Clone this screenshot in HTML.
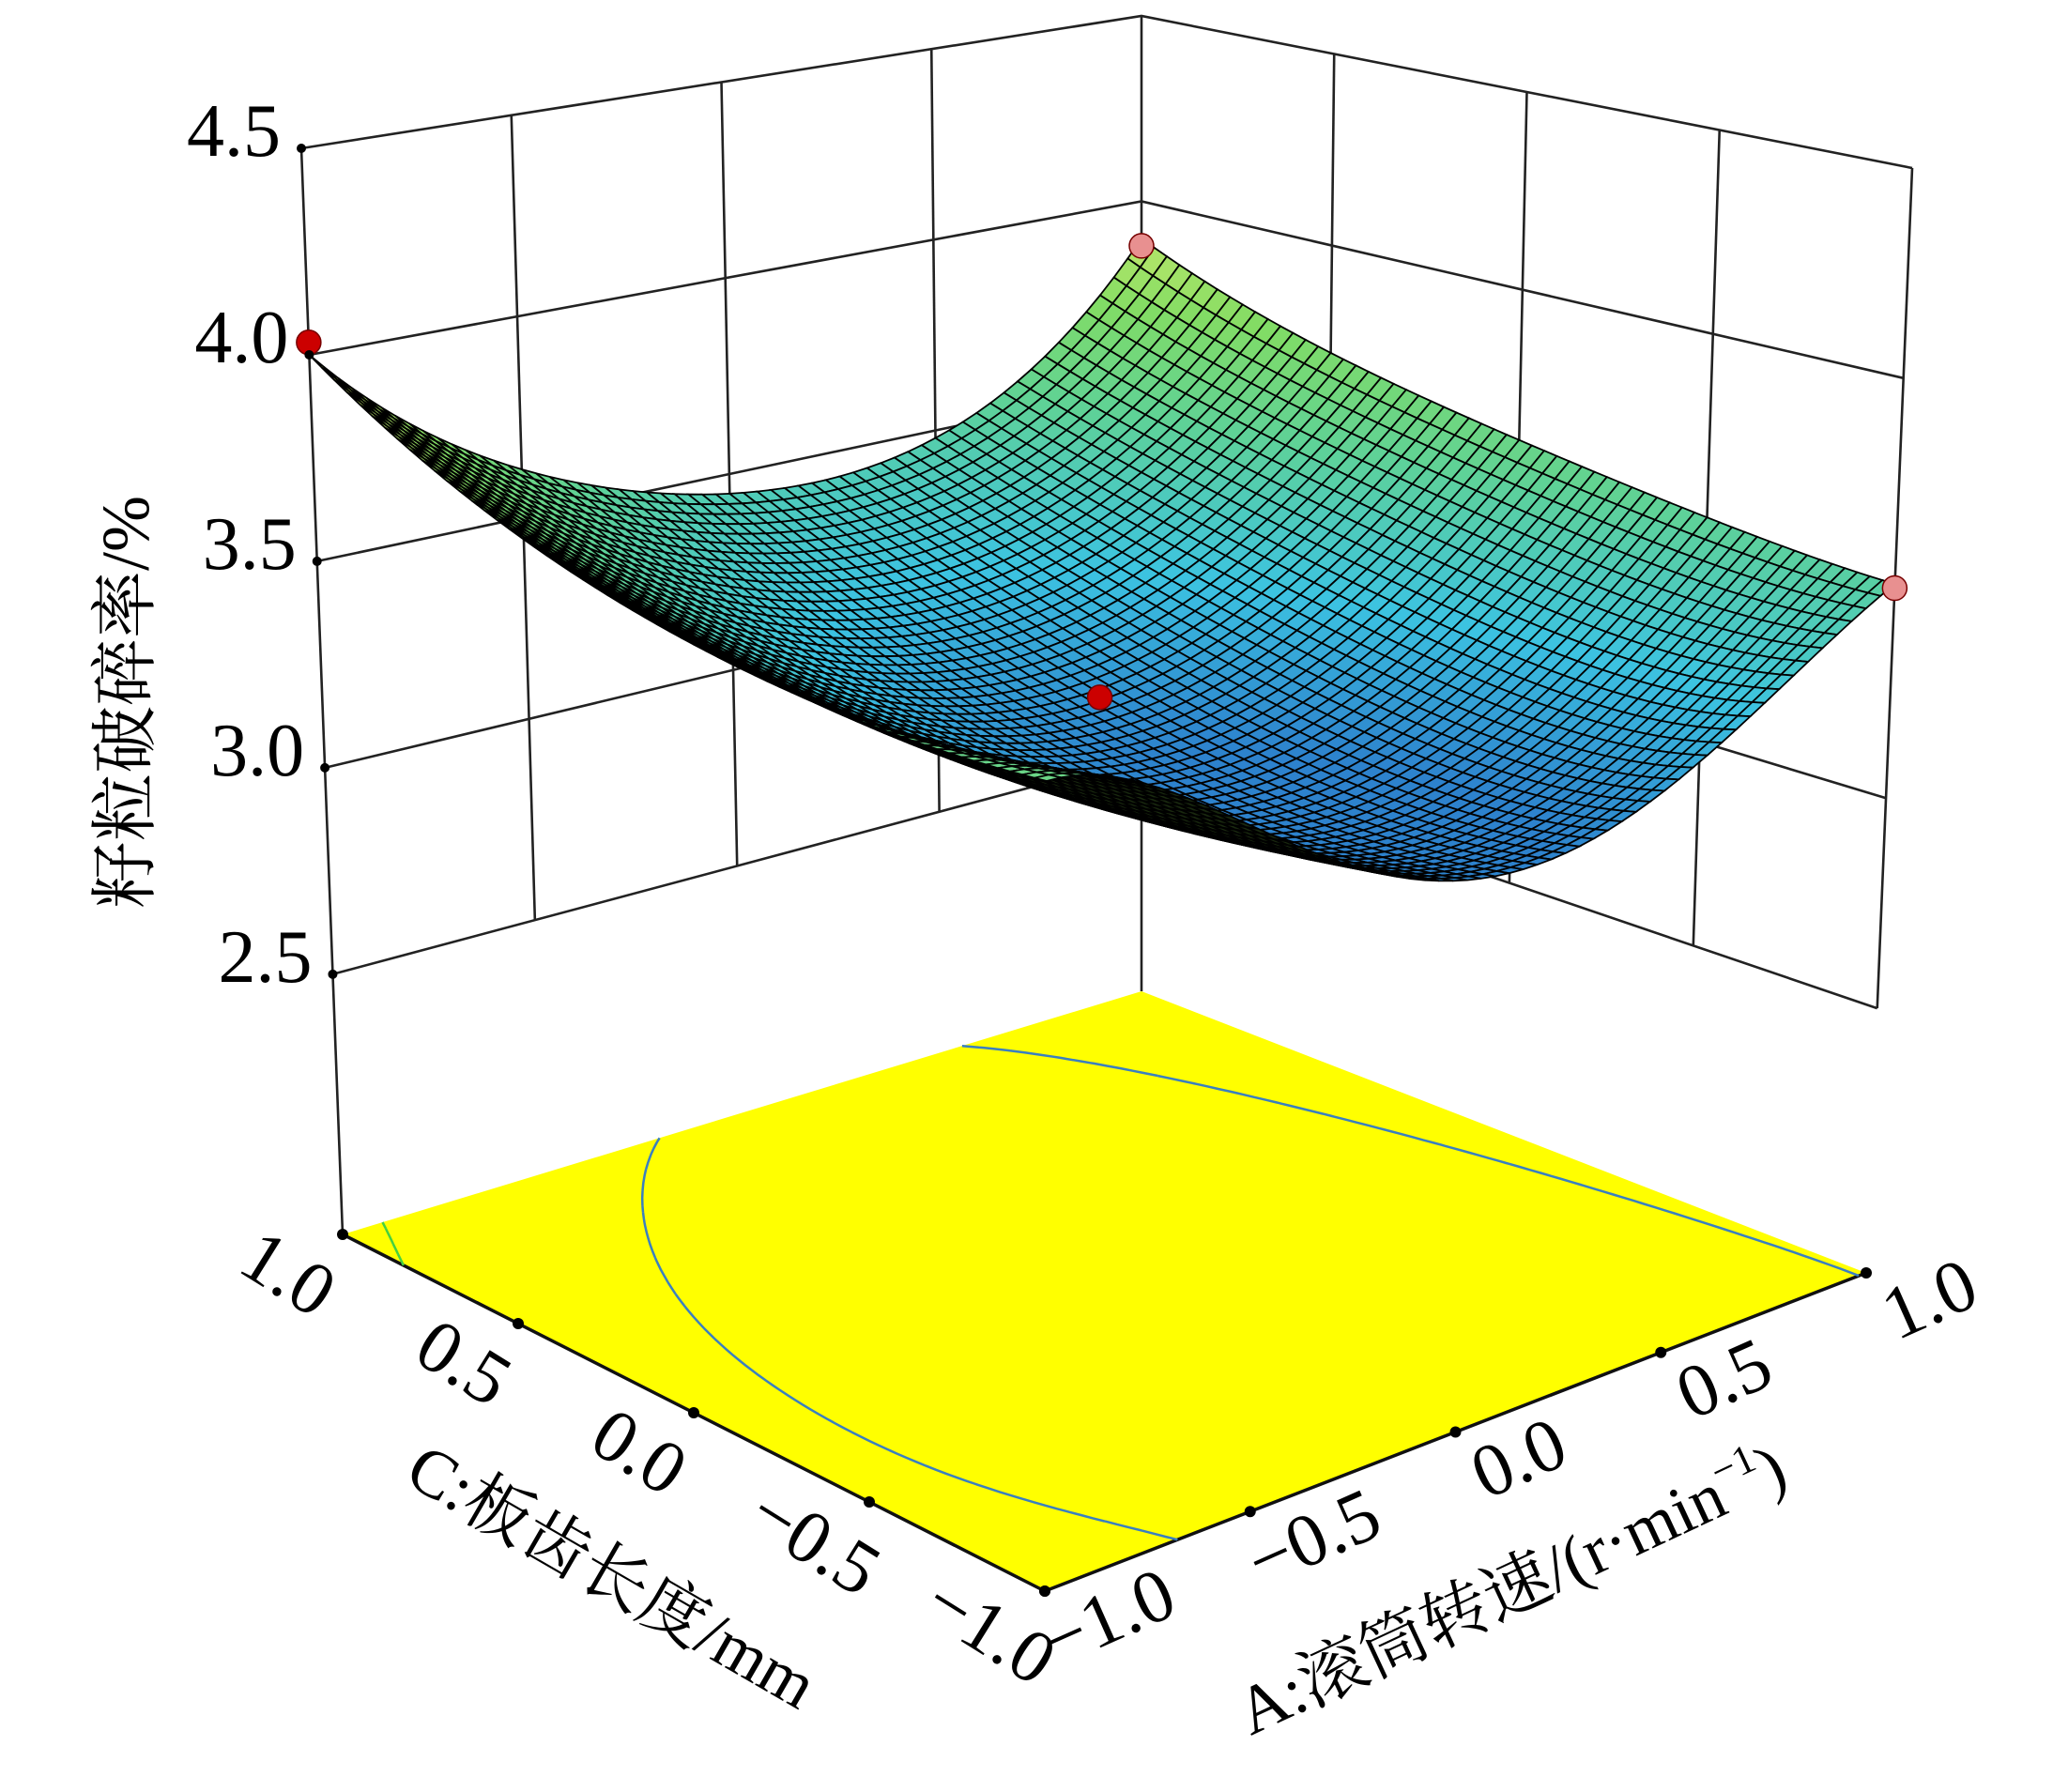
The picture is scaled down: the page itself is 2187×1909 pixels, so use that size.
<!DOCTYPE html>
<html><head><meta charset="utf-8"><style>
html,body{margin:0;padding:0;background:#fff;}
svg{display:block;}
text{font-family:"Liberation Serif","Noto Serif CJK SC",serif;fill:#000;}
</style></head><body>
<svg id="chart" width="2187" height="1909" viewBox="0 0 2187 1909" xmlns="http://www.w3.org/2000/svg">
<g id="walls"></g>
<g id="floor"></g>
<g id="surface"></g>
<g id="points"></g>
<g id="axes"></g>
</svg>
<script>
// ---- data ----
const aLevels = [-1, -0.5, 0, 0.5, 1];
const cLevels = [-1, -0.5, 0, 0.5, 1];
// response values, rows = C level, columns = A level
const zRowCm10 = [3.62, 3.38, 3.12, 3.20, 3.51];
const zRowCm05 = [3.60, 3.30, 3.08, 3.16, 3.55];
const zRowC00  = [3.64, 3.30, 3.12, 3.22, 3.62];
const zRowC05  = [3.76, 3.42, 3.25, 3.33, 3.72];
const zRowC10  = [4.00, 3.62, 3.45, 3.48, 3.90];
const zGrid = [zRowCm10, zRowCm05, zRowC00, zRowC05, zRowC10];
const zTicks = [2.5, 3.0, 3.5, 4.0, 4.5];
const zTickLabels = ["2.5", "3.0", "3.5", "4.0", "4.5"];
const aTicks = [-1, -0.5, 0, 0.5, 1];
const aTickLabels = ["\u22121.0", "\u22120.5", "0.0", "0.5", "1.0"];
const cTicks = [1, 0.5, 0, -0.5, -1];
const cTickLabels = ["1.0", "0.5", "0.0", "\u22120.5", "\u22121.0"];
const ptA = [-1, 0, 1, 1];
const ptC = [1, 0, 1, -1];
const ptZ = [4.03, 3.25, 3.88, 3.50];
const contourLevels = [3.5, 3.9];

// ---- projection ----
const ZF = 1.87, ZT = 4.5;
const FL = {L:[365,1315], F:[1113,1695], R:[1988,1356], B:[1216,1056]};
const TP = {L:[321,158], F:[1116,398], R:[2037,179], B:[1216,17]};
function bil(S, u, v, k){
  return S.F[k]*(1-u)*(1-v) + S.R[k]*u*(1-v) + S.L[k]*(1-u)*v + S.B[k]*u*v;
}
function proj(a, c, z){
  const u=(a+1)/2, v=(c+1)/2, s=(z-ZF)/(ZT-ZF);
  const fx=bil(FL,u,v,0), fy=bil(FL,u,v,1), tx=bil(TP,u,v,0), ty=bil(TP,u,v,1);
  return [fx+(tx-fx)*s, fy+(ty-fy)*s];
}
function lag(nodes, x, i){
  let p=1; for(let j=0;j<nodes.length;j++){ if(j!==i) p*=(x-nodes[j])/(nodes[i]-nodes[j]); } return p;
}
function zAt(a, c){
  let s=0;
  for(let i=0;i<cLevels.length;i++){ const lc=lag(cLevels,c,i);
    for(let j=0;j<aLevels.length;j++){ s+=lc*lag(aLevels,a,j)*zGrid[i][j]; } }
  return s;
}
const NS='http://www.w3.org/2000/svg';
function mk(tag, attrs, parent){
  const e=document.createElementNS(NS,tag);
  for(const k in attrs) e.setAttribute(k, attrs[k]);
  parent.appendChild(e); return e;
}
const P = pts => pts.map(p=>p[0].toFixed(1)+','+p[1].toFixed(1)).join(' ');

// ---- walls ----
const walls=document.getElementById('walls');
const gl={stroke:'#222','stroke-width':2.6,fill:'none'};
zTicks.forEach(z=>{
  const l=mk('polyline',Object.assign({points:P([proj(-1,1,z),proj(1,1,z),proj(1,-1,z)])},gl),walls);
  
  
});
[-0.5,0,0.5].forEach(a=>{
  const l=mk('line',Object.assign({x1:proj(a,1,2.5)[0],y1:proj(a,1,2.5)[1],x2:proj(a,1,4.5)[0],y2:proj(a,1,4.5)[1]},gl),walls);
  
  
});
[-0.5,0,0.5].forEach(c=>{
  const l=mk('line',Object.assign({x1:proj(1,c,2.5)[0],y1:proj(1,c,2.5)[1],x2:proj(1,c,4.5)[0],y2:proj(1,c,4.5)[1]},gl),walls);
  
  
});
[[-1,1,ZF],[1,1,ZF],[1,-1,2.5]].forEach(p=>{
  const t=proj(p[0],p[1],4.5), b=proj(p[0],p[1],p[2]);
  const l=mk('line',Object.assign({x1:b[0],y1:b[1],x2:t[0],y2:t[1]},gl),walls);
  
  
});

// ---- floor ----
const floor=document.getElementById('floor');
const fp=mk('polygon',{points:P([proj(-1,1,ZF),proj(-1,-1,ZF),proj(1,-1,ZF),proj(1,1,ZF)]),fill:'#ffff00',stroke:'none'},floor);


const fe=mk('polyline',{points:P([proj(-1,1,ZF),proj(-1,-1,ZF),proj(1,-1,ZF)]),fill:'none',stroke:'#111','stroke-width':3.5},floor);


const NC=80;
contourLevels.forEach((lev,li)=>{
  const segs=[];
  const V=[]; for(let i=0;i<=NC;i++){V.push([]);for(let j=0;j<=NC;j++)V[i].push(zAt(-1+2*i/NC,-1+2*j/NC));}
  for(let i=0;i<NC;i++)for(let j=0;j<NC;j++){
    const corners=[[i,j],[i+1,j],[i+1,j+1],[i,j+1]];
    const pts=[];
    for(let k=0;k<4;k++){
      const p=corners[k], q=corners[(k+1)%4];
      const vp=V[p[0]][p[1]]-lev, vq=V[q[0]][q[1]]-lev;
      if((vp<0)!==(vq<0)){ const t=vp/(vp-vq);
        pts.push([-1+2*(p[0]+(q[0]-p[0])*t)/NC, -1+2*(p[1]+(q[1]-p[1])*t)/NC]); }
    }
    if(pts.length>=2) segs.push(pts[0],pts[1]);
  }
  let d='';
  for(let k=0;k<segs.length;k+=2){
    const p=proj(segs[k][0],segs[k][1],ZF), q=proj(segs[k+1][0],segs[k+1][1],ZF);
    d+='M'+p[0].toFixed(1)+' '+p[1].toFixed(1)+'L'+q[0].toFixed(1)+' '+q[1].toFixed(1);
  }
  const c=mk('path',{d:d,stroke:li===0?'#3a7fc0':'#44d040','stroke-width':2.5,fill:'none'},floor);
  
  
});

// ---- surface ----
const surf=document.getElementById('surface');
function color(z){
  const stops=[[3.1,[45,130,205]],[3.3,[60,195,225]],[3.55,[95,210,150]],[3.75,[130,220,100]],[4.0,[230,240,110]]];
  if(z<=stops[0][0]) return stops[0][1];
  for(let k=1;k<stops.length;k++){ if(z<=stops[k][0]){ const t=(z-stops[k-1][0])/(stops[k][0]-stops[k-1][0]);
    return stops[k-1][1].map((v,i)=>Math.round(v+(stops[k][1][i]-v)*t)); } }
  return stops[stops.length-1][1];
}
function area(pts){let s=0;for(let i=0;i<pts.length;i++){const p=pts[i],q=pts[(i+1)%pts.length];s+=p[0]*q[1]-q[0]*p[1];}return s;}
const refSign=Math.sign(area([proj(-0.1,-0.1,ZF),proj(0.1,-0.1,ZF),proj(0.1,0.1,ZF),proj(-0.1,0.1,ZF)]));
const N=60;
const cells=[];
for(let i=0;i<N;i++)for(let j=0;j<N;j++){
  cells.push([-1+2*i/N,-1+2*(i+1)/N,-1+2*j/N,-1+2*(j+1)/N]);
}
cells.sort((p,q)=>(q[0]+q[2])-(p[0]+p[2]));
let html='';
cells.forEach(cl=>{
  const [a0,a1,c0,c1]=cl;
  const z00=zAt(a0,c0),z10=zAt(a1,c0),z11=zAt(a1,c1),z01=zAt(a0,c1);
  const pp=[proj(a0,c0,z00),proj(a1,c0,z10),proj(a1,c1,z11),proj(a0,c1,z01)];
  const back=Math.sign(area(pp))!==refSign;
  const col=back?[25,40,15]:color((z00+z10+z11+z01)/4);
  html+='<polygon points="'+P(pp)+'" fill="rgb('+col.join(',')+')" stroke="#000" stroke-width="1.8"/>';
});
surf.innerHTML=html;

// ---- design points ----
const pg=document.getElementById('points');
ptA.forEach((a,k)=>{
  const p=proj(a,ptC[k],ptZ[k]);
  const above=ptZ[k]>=zAt(a,ptC[k]);
  const c=mk('circle',{cx:p[0],cy:p[1],r:13,fill:above?'#cc0000':'#e89090',stroke:'#700','stroke-width':1.5},pg);
  
  
});

// ---- axes ----
const ax=document.getElementById('axes');
zTicks.forEach((z,k)=>{
  const p=proj(-1,1,z);
  const d=mk('circle',{cx:p[0],cy:p[1],r:5,fill:'#000'},ax);
  
  
  const t=mk('text',{x:p[0]-22,y:p[1]+8,'font-size':80,'text-anchor':'end'},ax);
  t.textContent=zTickLabels[k];
  
  
});
cTicks.forEach((c,k)=>{
  const p=proj(-1,c,ZF);
  const d=mk('circle',{cx:p[0],cy:p[1],r:6,fill:'#000'},ax);
  
  
  const x=p[0]-72,y=p[1]+64;
  const t=mk('text',{x:x,y:y,'font-size':80,'text-anchor':'middle',transform:'rotate(32 '+x+' '+y+')'},ax);
  t.textContent=cTickLabels[k];
  
  
});
aTicks.forEach((a,k)=>{
  const p=proj(a,-1,ZF);
  const d=mk('circle',{cx:p[0],cy:p[1],r:6,fill:'#000'},ax);
  
  
  const x=p[0]+78,y=p[1]+52;
  const t=mk('text',{x:x,y:y,'font-size':80,'text-anchor':'middle',transform:'rotate(-24 '+x+' '+y+')'},ax);
  t.textContent=aTickLabels[k];
  
  
});
</script>
<svg style="position:absolute;left:0;top:0" width="2187" height="1909">
<text x="0" y="0" font-size="72" text-anchor="middle" transform="translate(158 748) rotate(-90)" style="font-family:'Liberation Serif','Noto Serif CJK SC',serif">籽粒破碎率/%</text>
<text x="0" y="0" font-size="72" text-anchor="middle" transform="translate(640 1700) rotate(30)" style="font-family:'Liberation Serif','Noto Serif CJK SC',serif">C:板齿长度/mm</text>
<text x="0" y="0" font-size="72" text-anchor="middle" transform="translate(1620 1715) rotate(-25)" style="font-family:'Liberation Serif','Noto Serif CJK SC',serif">A:滚筒转速/(r·min<tspan dy="-30" font-size="44">−1</tspan><tspan dy="30">)</tspan></text>
</svg>
</body></html>
